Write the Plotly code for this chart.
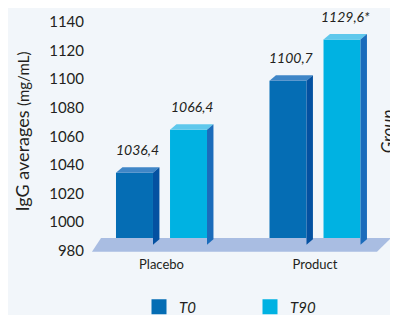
import plotly.graph_objects as go

categories = ["Placebo", "Product"]
series_names = ["T0", "T90"]
t0_values = [1036.4, 1100.7]
t90_values = [1066.4, 1129.6]
label_marks_t0 = ["", ""]
label_marks_t90 = ["", "*"]
y_ticks = [980, 1000, 1020, 1040, 1060, 1080, 1100, 1120, 1140]

# styling / geometry constants
FONT = "Lato"
TXT = "#231f20"
BG = "#f2f6fa"
front_cols = ["#056db4", "#00b2e2"]
side_cols = ["#0451a1", "#1b6cbb"]
top_cols = ["#3f86c7", "#5fc8ec"]
FLOOR_COL = "#a9bde2"
BASE = 984.0          # bar base level on the floor
BAR_W = 0.241
OFFS = [-0.176, 0.176]
DU = 0.042            # depth offset in x units
DV = 3.85             # depth offset in y units

# plot area in window pixels (page body adds an 8px offset)
PL, PR, PT, PB = 85, 398, 8, 255
PW, PH = PR - PL, PB - PT

def px(x):
    return (x - PL) / PW

def py(y):
    return (PB - y) / PH

cat_pos = list(range(len(categories)))

fig = go.Figure()

# floor platform
fl_front_y, fl_back_y = 979.2, 988.75
fx = [cat_pos[0] - 0.453, cat_pos[-1] + 0.404, cat_pos[-1] + 0.495, cat_pos[0] - 0.394, cat_pos[0] - 0.453]
fy = [fl_front_y, fl_front_y, fl_back_y, fl_back_y, fl_front_y]
fig.add_trace(go.Scatter(x=fx, y=fy, fill="toself", fillcolor=FLOOR_COL, mode="lines",
                         line=dict(width=0), showlegend=False, hoverinfo="skip"))

all_series = [t0_values, t90_values]
all_marks = [label_marks_t0, label_marks_t90]

for si, (name, vals) in enumerate(zip(series_names, all_series)):
    xs = [p + OFFS[si] for p in cat_pos]
    fig.add_trace(go.Bar(
        x=xs, y=[v - DV / 2 - BASE for v in vals], base=BASE, width=BAR_W,
        name=name, legendgroup=name, showlegend=False,
        marker=dict(color=front_cols[si], line=dict(width=0)),
    ))
    for x, v in zip(xs, vals):
        x0, x1 = x - BAR_W / 2, x + BAR_W / 2
        vf, vb = v - DV / 2, v + DV / 2
        # top face
        fig.add_trace(go.Scatter(
            x=[x0, x1, x1 + DU, x0 + DU, x0], y=[vf, vf, vb, vb, vf],
            fill="toself", fillcolor=top_cols[si], mode="lines", line=dict(width=0),
            showlegend=False, hoverinfo="skip", legendgroup=name))
        # side face
        fig.add_trace(go.Scatter(
            x=[x1, x1 + DU, x1 + DU, x1, x1], y=[BASE, BASE + DV, vb, vf, BASE],
            fill="toself", fillcolor=side_cols[si], mode="lines", line=dict(width=0),
            showlegend=False, hoverinfo="skip", legendgroup=name))
    # legend entry (square swatch)
    fig.add_trace(go.Scatter(
        x=[None], y=[None], mode="markers", name=name, legendgroup=name,
        marker=dict(symbol="square", size=15, color=front_cols[si], line=dict(width=0))))

# invisible trace on a right-hand axis that carries the cut-off "Group" title
fig.add_trace(go.Scatter(x=[None], y=[None], yaxis="y2", showlegend=False, hoverinfo="skip"))

# value labels
for si, vals in enumerate(all_series):
    for ci, v in enumerate(vals):
        txt = f"{v:.1f}".replace(".", ",") + all_marks[si][ci]
        fig.add_annotation(x=cat_pos[ci] + OFFS[si] + DU / 2, y=v + DV / 2, text=txt,
                           showarrow=False, yanchor="bottom", yshift=7,
                           font=dict(family=FONT, size=14, color=TXT, style="italic"))

fig.update_layout(
    width=PR - 8, height=315 - 8,
    margin=dict(l=PL - 8, r=0, t=PT - 8, b=315 - PB, autoexpand=False),
    paper_bgcolor=BG, plot_bgcolor=BG,
    barmode="overlay",
    font=dict(family=FONT, color=TXT),
    showlegend=True,
    legend=dict(orientation="h", x=px(139), xanchor="left", y=py(307), yanchor="middle",
                font=dict(family=FONT, size=15, color=TXT, style="italic"),
                entrywidth=66, bgcolor="rgba(0,0,0,0)", traceorder="normal"),
    xaxis=dict(range=[(PL - 161.5) / 153.5, (PR - 161.5) / 153.5], tickvals=cat_pos,
               ticktext=categories, showgrid=False, zeroline=False, showline=False,
               tickfont=dict(family=FONT, size=13, color=TXT), fixedrange=True, automargin=False),
    yaxis=dict(range=[976.85, 1149.8], tickvals=y_ticks, showgrid=False, zeroline=False,
               showline=False, tickfont=dict(family=FONT, size=15, color=TXT), automargin=False,
               title=dict(text="IgG averages <span style='font-size:15px'>(mg/mL)</span>",
                          font=dict(family=FONT, size=18, color=TXT), standoff=14)),
    yaxis2=dict(overlaying="y", side="right", anchor="free", position=px(386),
                range=[0, 1], showticklabels=False, ticks="", showgrid=False, zeroline=False,
                showline=False, automargin=False,
                title=dict(text="<i>Group</i>", standoff=0,
                           font=dict(family=FONT, size=17, color=TXT))),
)

fig.write_html("out.html")
